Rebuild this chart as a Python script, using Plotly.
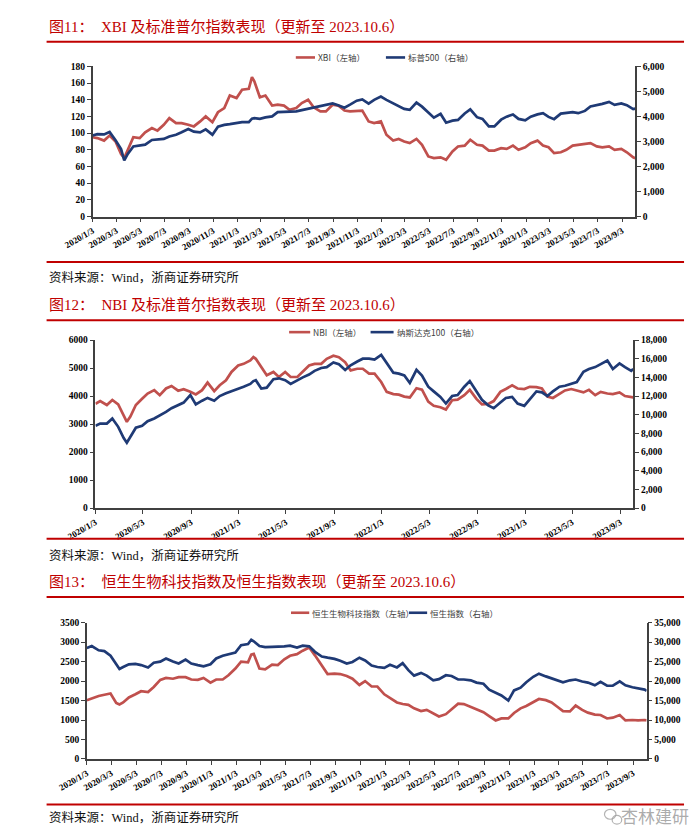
import plotly.graph_objects as go
import pandas as pd

# ---------------- data ----------------
dates = [
    "2020-01-03", "2020-01-15", "2020-02-01", "2020-02-15", "2020-03-01", "2020-03-15", "2020-03-23",
    "2020-04-01", "2020-04-15", "2020-05-01", "2020-05-15", "2020-06-01", "2020-06-15", "2020-07-01",
    "2020-07-15", "2020-08-01", "2020-08-15", "2020-09-01", "2020-09-15", "2020-10-01", "2020-10-15",
    "2020-11-01", "2020-11-15", "2020-12-01", "2020-12-15", "2021-01-01", "2021-01-15", "2021-02-01",
    "2021-02-09", "2021-02-15", "2021-03-01", "2021-03-15", "2021-04-01", "2021-04-15", "2021-05-01",
    "2021-05-15", "2021-06-01", "2021-06-15", "2021-07-01", "2021-07-15", "2021-08-01", "2021-08-15",
    "2021-09-01", "2021-09-15", "2021-10-01", "2021-10-15", "2021-11-01", "2021-11-15", "2021-12-01",
    "2021-12-15", "2022-01-01", "2022-01-15", "2022-02-01", "2022-02-15", "2022-03-01", "2022-03-15",
    "2022-04-01", "2022-04-15", "2022-05-01", "2022-05-15", "2022-06-01", "2022-06-15", "2022-07-01",
    "2022-07-15", "2022-08-01", "2022-08-15", "2022-09-01", "2022-09-15", "2022-10-01", "2022-10-15",
    "2022-11-01", "2022-11-15", "2022-12-01", "2022-12-15", "2023-01-01", "2023-01-15", "2023-02-01",
    "2023-02-15", "2023-03-01", "2023-03-15", "2023-04-01", "2023-04-15", "2023-05-01", "2023-05-15",
    "2023-06-01", "2023-06-15", "2023-07-01", "2023-07-15", "2023-08-01", "2023-08-15", "2023-09-01",
    "2023-09-15", "2023-10-01", "2023-10-06",
]

xbi = [95, 94, 91, 97, 90, 75, 70, 80, 95, 94,
       101, 106, 103, 110, 118, 112, 112, 110, 108, 114,
       120, 113, 125, 130, 145, 142, 152, 153, 167, 162,
       143, 145, 133, 134, 133, 128, 130, 136, 140, 131,
       126, 126, 134, 133, 127, 126, 127, 127, 114, 112,
       114, 98, 91, 93, 90, 88, 93, 86, 72, 70,
       71, 68, 78, 84, 85, 92, 86, 85, 79, 79,
       82, 81, 85, 80, 83, 88, 91, 85, 83, 76,
       77, 80, 85, 86, 87, 88, 84, 83, 84, 80,
       81, 77, 71, 70]

sp500 = [3235, 3290, 3280, 3380, 3050, 2700, 2240, 2500, 2800, 2850,
         2870, 3060, 3070, 3100, 3200, 3270, 3370, 3500, 3390, 3360,
         3480, 3270, 3590, 3660, 3690, 3750, 3770, 3770, 3910, 3930,
         3900, 3960, 4000, 4170, 4180, 4170, 4200, 4250, 4300, 4360,
         4400, 4470, 4520, 4450, 4350, 4470, 4630, 4680, 4510, 4660,
         4790, 4660, 4520, 4400, 4300, 4260, 4550, 4390, 4150, 3950,
         4100, 3750, 3830, 3860, 4120, 4280, 3970, 3900, 3600, 3600,
         3870, 3990, 4080, 3900, 3840, 3990, 4080, 4130, 3980, 3890,
         4110, 4150, 4170, 4130, 4220, 4400, 4450, 4500, 4580, 4460,
         4520, 4450, 4290, 4310]

nbi = [3720, 3820, 3680, 3860, 3700, 3330, 3080, 3270, 3680, 3900,
       4090, 4210, 4030, 4270, 4360, 4190, 4245, 4150, 4060, 4210,
       4480, 4175, 4385, 4560, 4860, 5090, 5150, 5270, 5390, 5330,
       5030, 4740, 4860, 4680, 4860, 4680, 4680, 4860, 5090, 5150,
       5150, 5330, 5440, 5390, 5210, 4915, 4975, 4975, 4800, 4800,
       4500, 4150, 4070, 4050, 3980, 3950, 4280, 4230, 3800, 3650,
       3600, 3520, 3850, 3870, 4030, 4220, 3900, 3700, 3720, 3820,
       4150, 4250, 4380, 4270, 4250, 4330, 4320, 4270, 3980, 3930,
       4080, 4200, 4250, 4200, 4130, 4220, 4030, 4150, 4090, 4070,
       4130, 4000, 3960, 3950]

ndx = [8800, 9050, 9050, 9600, 8700, 7500, 7000, 7600, 8600, 8800,
       9300, 9600, 9900, 10300, 10700, 11000, 11300, 12100, 11100, 11500,
       11800, 11500, 12000, 12300, 12500, 12800, 13000, 13300, 13600, 13700,
       12800, 12900, 13800, 13900, 13700, 13300, 13700, 14000, 14300, 14700,
       15000, 15100, 15600, 15400, 14800, 15300, 15700, 16000, 16000, 15900,
       16400, 15500, 14500, 14400, 14200, 13400, 14800, 14200, 13000, 12500,
       11900, 11200, 12000, 12100, 13000, 13600, 12500, 11600, 11000, 10700,
       11300, 11800, 11900, 11200, 10950, 11700, 12500, 12400, 12000, 12500,
       13000, 13100, 13300, 13500, 14600, 14900, 15100, 15400, 15800, 14900,
       15500, 15100, 14700, 14900]

hs_bio = [1510, 1560, 1615, 1650, 1680, 1440, 1400, 1450, 1580, 1660,
          1740, 1720, 1850, 2030, 2080, 2060, 2100, 2100, 2040, 2030,
          2080, 1960, 2040, 2040, 2150, 2320, 2500, 2480, 2680, 2700,
          2320, 2300, 2420, 2410, 2560, 2650, 2690, 2780, 2860, 2660,
          2380, 2180, 2190, 2180, 2130, 2060, 1900, 2000, 1860, 1860,
          1660, 1570, 1450, 1410, 1390, 1300, 1230, 1260, 1170, 1090,
          1150, 1270, 1420, 1410, 1330, 1260, 1200, 1100, 990, 1040,
          1040, 1180, 1300, 1360, 1450, 1540, 1510, 1450, 1340, 1230,
          1220, 1370, 1260, 1190, 1140, 1130, 1040, 1060, 1130, 990,
          1000, 990, 1000, 990]

hsi = [28500, 29000, 27900, 27700, 26500, 24500, 23100, 23600, 24300, 24400,
       24100, 23500, 24700, 25000, 25800, 25000, 24500, 25500, 24500, 24100,
       23800, 24300, 25800, 26500, 26900, 27300, 29200, 29500, 30600, 30200,
       29000, 28700, 28800, 28800, 28900, 29100, 28600, 29100, 28900, 27500,
       26300, 26000, 25700, 25200, 24500, 24900, 26000, 25300, 24000, 23600,
       23400, 24200, 23500, 24600, 22800, 21400, 22100, 21400, 20200, 20500,
       21500, 21300, 20400, 20400, 20200, 19600, 19300, 17800, 16900, 16300,
       15000, 17600, 18300, 19700, 21100, 21900, 21200, 20700, 20000, 19700,
       20200, 20400, 19900, 19600, 18900, 19800, 18800, 18800, 19900, 18900,
       18400, 18200, 17800, 17500]

ticks_2m = ["2020/1/3", "2020/3/3", "2020/5/3", "2020/7/3", "2020/9/3", "2020/11/3",
            "2021/1/3", "2021/3/3", "2021/5/3", "2021/7/3", "2021/9/3", "2021/11/3",
            "2022/1/3", "2022/3/3", "2022/5/3", "2022/7/3", "2022/9/3", "2022/11/3",
            "2023/1/3", "2023/3/3", "2023/5/3", "2023/7/3", "2023/9/3"]
ticks_4m = ["2020/1/3", "2020/5/3", "2020/9/3", "2021/1/3", "2021/5/3", "2021/9/3",
            "2022/1/3", "2022/5/3", "2022/9/3", "2023/1/3", "2023/5/3", "2023/9/3"]

titles = ["图11：  XBI 及标准普尔指数表现（更新至 2023.10.6）",
          "图12：  NBI 及标准普尔指数表现（更新至 2023.10.6）",
          "图13：  恒生生物科技指数及恒生指数表现（更新至 2023.10.6）"]
source = "资料来源：Wind，浙商证券研究所"
legend_names = [("XBI（左轴）", "标普500（右轴）"),
                ("NBI（左轴）", "纳斯达克100（右轴）"),
                ("恒生生物科技指数（左轴）", "恒生指数（右轴）")]

# ---------------- styling ----------------
W, H = 700, 837
RED = "#C0504D"
BLUE = "#1F3A75"
RULE = "#C00000"
AX = "#404040"
TF = dict(family="Liberation Serif, Times New Roman, serif", size=9.5, color="#000000", weight="bold")
XTF = dict(family="Liberation Serif, Times New Roman, serif", size=9, color="#000000", weight="bold")
CJK = "Liberation Serif, Noto Sans CJK SC, sans-serif"


def px(x):
    return x / W


def py(y):
    return 1 - y / H


def tv(labels):
    return [pd.to_datetime(t, format="%Y/%m/%d").strftime("%Y-%m-%d") for t in labels]


xr = ["2020-01-03", "2023-10-06"]

fig = go.Figure()
fig.add_trace(go.Scatter(x=dates, y=xbi, mode="lines", line=dict(color=RED, width=2.7), xaxis="x", yaxis="y", showlegend=False))
fig.add_trace(go.Scatter(x=dates, y=sp500, mode="lines", line=dict(color=BLUE, width=2.7), xaxis="x", yaxis="y2", showlegend=False))
fig.add_trace(go.Scatter(x=dates, y=nbi, mode="lines", line=dict(color=RED, width=2.7), xaxis="x2", yaxis="y3", showlegend=False))
fig.add_trace(go.Scatter(x=dates, y=ndx, mode="lines", line=dict(color=BLUE, width=2.7), xaxis="x2", yaxis="y4", showlegend=False))
fig.add_trace(go.Scatter(x=dates, y=hs_bio, mode="lines", line=dict(color=RED, width=2.7), xaxis="x3", yaxis="y5", showlegend=False))
fig.add_trace(go.Scatter(x=dates, y=hsi, mode="lines", line=dict(color=BLUE, width=2.7), xaxis="x3", yaxis="y6", showlegend=False))


def xax(dom, anchor, labels):
    return dict(domain=[px(dom[0]), px(dom[1])], anchor=anchor, type="date", range=xr,
                tickmode="array", tickvals=tv(labels), ticktext=labels, tickangle=-30,
                ticks="outside", ticklen=4, tickcolor=AX, showline=True, linecolor=AX,
                linewidth=1.5, showgrid=False, zeroline=False, tickfont=XTF)


def yax(top, bot, anchor, rng, dt, fmt, side="left", overlay=None):
    d = dict(anchor=anchor, range=rng, dtick=dt, tick0=0, tickformat=fmt, side=side,
             ticks="outside", ticklen=4, tickcolor=AX, showline=True, linecolor=AX,
             linewidth=1.5, showgrid=False, zeroline=False, tickfont=TF)
    if overlay:
        d["overlaying"] = overlay
    else:
        d["domain"] = [py(bot), py(top)]
    return d


fig.update_layout(
    width=W, height=H, autosize=False,
    margin=dict(l=0, r=0, t=0, b=0),
    paper_bgcolor="white", plot_bgcolor="white",
    separators=".,",
    xaxis=xax((58, 624), "y", ticks_2m),
    yaxis=yax(54, 206, "x", [0, 180], 20, "d"),
    yaxis2=yax(54, 206, "x", [0, 6000], 1000, ",d", side="right", overlay="y"),
    xaxis2=xax((61, 622), "y3", ticks_4m),
    yaxis3=yax(331, 501, "x2", [0, 6000], 1000, "d"),
    yaxis4=yax(331, 501, "x2", [0, 18000], 2000, ",d", side="right", overlay="y3"),
    xaxis3=xax((52, 636), "y5", ticks_2m),
    yaxis5=yax(617, 755, "x3", [0, 3500], 500, "d"),
    yaxis6=yax(617, 755, "x3", [0, 35000], 5000, ",d", side="right", overlay="y5"),
)

shapes = []
annotations = []

# horizontal red rules
for y in [29, 252, 311, 532, 591, 801]:
    shapes.append(dict(type="line", xref="paper", yref="paper", x0=px(10), x1=px(675),
                       y0=py(y), y1=py(y), line=dict(color=RULE, width=2)))

# titles
for t, y in zip(titles, [14, 296, 576]):
    annotations.append(dict(text=t, x=px(10), y=py(y), xref="paper", yref="paper",
                            xanchor="left", yanchor="middle", showarrow=False,
                            font=dict(family=CJK, size=15, color=RULE)))

# sources
for y in [268, 549, 814]:
    annotations.append(dict(text=source, x=px(10), y=py(y), xref="paper", yref="paper",
                            xanchor="left", yanchor="middle", showarrow=False,
                            font=dict(family=CJK, size=12.5, color="#111111")))

# legends (drawn manually)
leg_pos = [  # y, red line x0, x1, blue line x0, x1
    (45, 270, 290, 364, 384),
    (323, 263, 285, 348, 372),
    (607, 265, 284, 388, 407),
]
for (names, (ly, r0, r1, b0, b1)) in zip(legend_names, leg_pos):
    shapes.append(dict(type="line", xref="paper", yref="paper", x0=px(r0), x1=px(r1),
                       y0=py(ly), y1=py(ly), line=dict(color=RED, width=2.6)))
    shapes.append(dict(type="line", xref="paper", yref="paper", x0=px(b0), x1=px(b1),
                       y0=py(ly), y1=py(ly), line=dict(color=BLUE, width=2.6)))
    annotations.append(dict(text=names[0], x=px(r1 + 1), y=py(ly), xref="paper", yref="paper",
                            xanchor="left", yanchor="middle", showarrow=False,
                            font=dict(family="Noto Sans CJK SC", size=8.5, color="#404040")))
    annotations.append(dict(text=names[1], x=px(b1 + 1), y=py(ly), xref="paper", yref="paper",
                            xanchor="left", yanchor="middle", showarrow=False,
                            font=dict(family="Noto Sans CJK SC", size=8.5, color="#404040")))

# watermark
annotations.append(dict(text="杏林建研", x=px(682), y=py(812), xref="paper", yref="paper",
                        xanchor="right", yanchor="middle", showarrow=False,
                        font=dict(family="Noto Sans CJK SC", size=17, color="rgba(150,150,150,0.8)")))
shapes.append(dict(type="circle", xref="paper", yref="paper", x0=px(592), x1=px(604),
                   y0=py(816), y1=py(806), line=dict(color="rgba(160,160,160,0.8)", width=1.2)))
shapes.append(dict(type="circle", xref="paper", yref="paper", x0=px(600), x1=px(610),
                   y0=py(821), y1=py(812), line=dict(color="rgba(160,160,160,0.8)", width=1.2)))

fig.update_layout(shapes=shapes, annotations=annotations)
fig.write_html("out.html")
